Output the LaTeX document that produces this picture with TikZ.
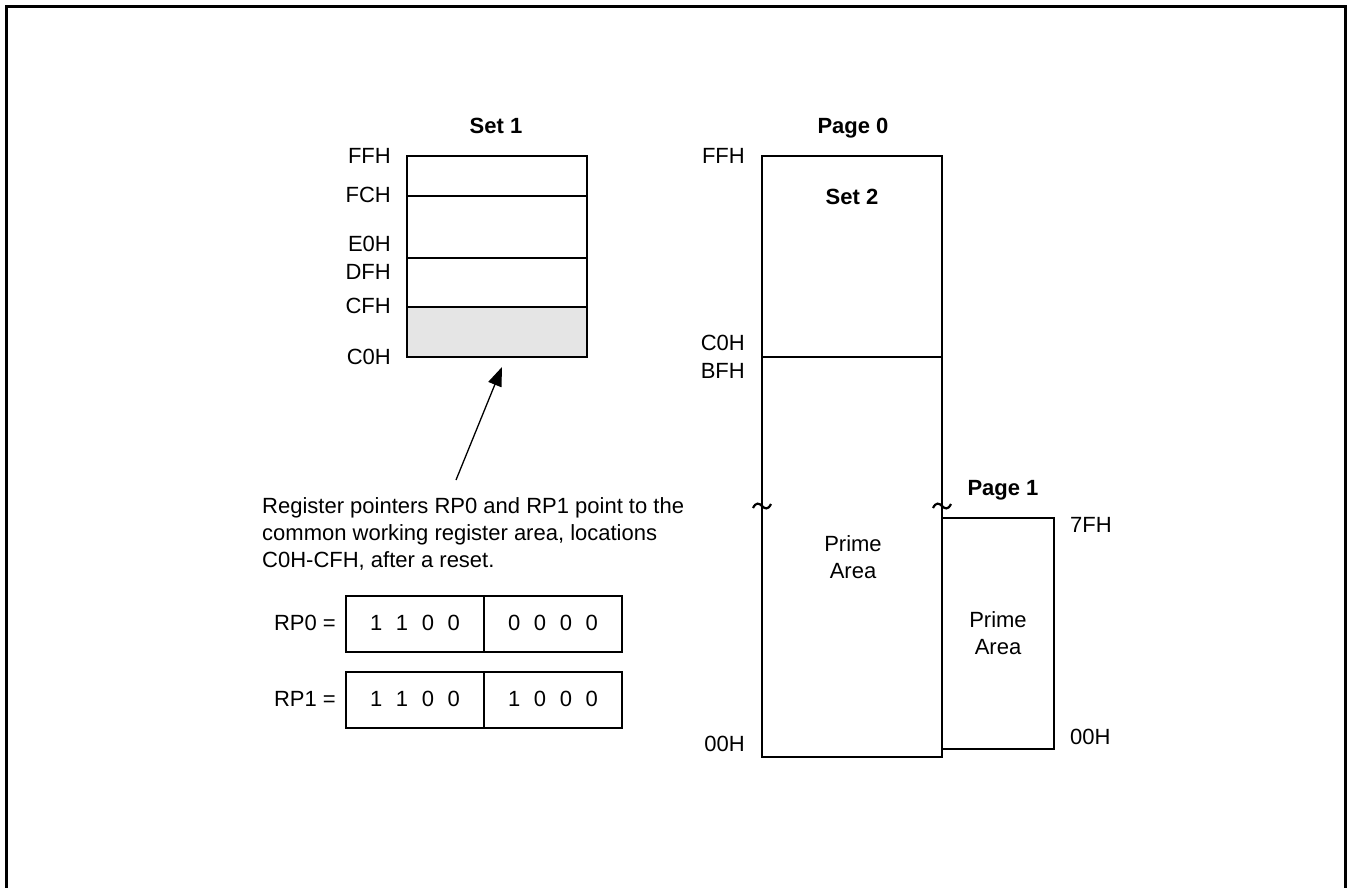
\documentclass[tikz,border=0pt]{standalone}
\usepackage{fontspec}
\setmainfont{Liberation Sans}
\usetikzlibrary{arrows.meta}
\begin{document}
\begin{tikzpicture}[x=1pt,y=-1pt,
  lbl/.style={font=\fontsize{22}{27}\selectfont, inner sep=0pt, text height=0.72em, text depth=0pt, yshift=-3pt},
  ttl/.style={lbl, font=\fontsize{22}{27}\selectfont\bfseries},
  boxline/.style={line width=1.4pt},
  frameline/.style={line width=3pt},
  tildemark/.style={line width=2.2pt}]
\useasboundingbox (0,0) rectangle (1353,887);
% frame
\draw[frameline] (6,890) -- (6,6) -- (1345,6) -- (1345,890);

% Set 1
\fill[gray!20] (407,307) rectangle (587,357);
\draw[boxline] (407,156) rectangle (587,357);
\draw[boxline] (407,196) -- (587,196);
\draw[boxline] (407,258) -- (587,258);
\draw[boxline] (407,307) -- (587,307);
\node[ttl] (set1) at (496,127) {Set 1};
\node[lbl,anchor=east] (s1ff) at (391,157) {FFH};
\node[lbl,anchor=east] (s1fc) at (391,196) {FCH};
\node[lbl,anchor=east] (s1e0) at (391,245) {E0H};
\node[lbl,anchor=east] (s1df) at (391,273) {DFH};
\node[lbl,anchor=east] (s1cf) at (391,307) {CFH};
\node[lbl,anchor=east] (s1c0) at (391,358) {C0H};

% arrow
\coordinate (atail) at (456,480);
\coordinate (ahead) at (502,367);
\draw[line width=1.3pt, -{Triangle[length=19pt,width=14pt]}] (atail) -- (ahead);

% description
\node[lbl, anchor=north west, align=left, text height=, text depth=] (desc) at (262,494)
 {Register pointers RP0 and RP1 point to the\\common working register area, locations\\C0H-CFH, after a reset.};

% RP boxes
\draw[boxline] (346,596) rectangle (622,652);
\draw[boxline] (484,596) -- (484,652);
\draw[boxline] (346,672) rectangle (622,728);
\draw[boxline] (484,672) -- (484,728);
\node[lbl,anchor=east] (rp0) at (336,624) {RP0 =};
\node[lbl,anchor=east] (rp1) at (336,700) {RP1 =};
\node[lbl] (rp0a) at (415,624) {1\hspace{0.62em}1\hspace{0.62em}0\hspace{0.62em}0};
\node[lbl] (rp0b) at (553,624) {0\hspace{0.62em}0\hspace{0.62em}0\hspace{0.62em}0};
\node[lbl] (rp1a) at (415,700) {1\hspace{0.62em}1\hspace{0.62em}0\hspace{0.62em}0};
\node[lbl] (rp1b) at (553,700) {1\hspace{0.62em}0\hspace{0.62em}0\hspace{0.62em}0};

% Page 0
\draw[boxline] (762,156) rectangle (942,757);
\draw[boxline] (762,357) -- (942,357);
\node[ttl] (page0) at (853,127) {Page 0};
\node[ttl] (set2) at (852,198) {Set 2};
\node[lbl,anchor=east] (p0ff) at (745,157) {FFH};
\node[lbl,anchor=east] (p0c0) at (745,344) {C0H};
\node[lbl,anchor=east] (p0bf) at (745,372) {BFH};
\node[lbl,anchor=east] (p000) at (745,745) {00H};
\node[lbl, align=center, text height=, text depth=] (prime0) at (853,554) {Prime\\Area};

% tildes
\draw[tildemark] (753,508) .. controls (756,502) and (759,503) .. (762,506) .. controls (765,509) and (768,510) .. (771,504);
\draw[tildemark] (933,508) .. controls (936,502) and (939,503) .. (942,506) .. controls (945,509) and (948,510) .. (951,504);

% Page 1
\draw[boxline] (942,518) -- (1054,518) -- (1054,749) -- (942,749);
\node[ttl] (page1) at (1003,489) {Page 1};
\node[lbl,anchor=west] (p17f) at (1070,526) {7FH};
\node[lbl,anchor=west] (p100) at (1070,738) {00H};
\node[lbl, align=center, text height=, text depth=] (prime1) at (998,630) {Prime\\Area};
\end{tikzpicture}
\end{document}
